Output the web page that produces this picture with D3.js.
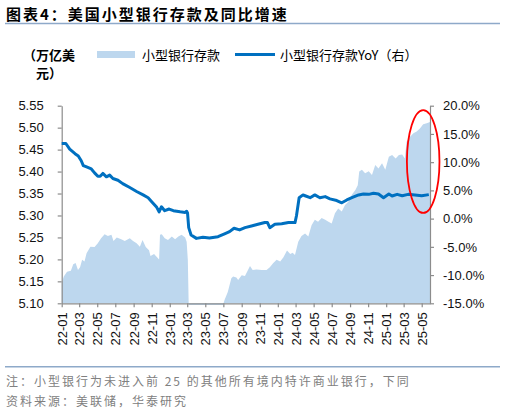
<!DOCTYPE html>
<html><head><meta charset="utf-8">
<script src="https://cdn.jsdelivr.net/npm/d3@7"></script>
<style>
html,body{margin:0;padding:0;background:#fff;}
svg{display:block;}
</style></head>
<body><svg id="c" width="505" height="412"></svg>
<script>
// ---- data ----
const depDates = ["2022-01-01","2022-01-08","2022-01-19","2022-02-01","2022-02-09","2022-02-17","2022-02-25","2022-03-04","2022-03-11","2022-03-19","2022-03-26","2022-04-08","2022-04-22","2022-05-03","2022-05-14","2022-05-26","2022-06-06","2022-06-18","2022-06-25","2022-07-06","2022-07-21","2022-08-02","2022-08-19","2022-08-30","2022-09-11","2022-09-22","2022-10-01","2022-10-12","2022-10-23","2022-10-28","2022-11-09","2022-11-26","2022-11-29","2022-12-05","2022-12-15","2022-12-26","2023-01-08","2023-01-19","2023-01-30","2023-02-10","2023-02-22","2023-02-27","2023-03-03","2023-03-06","2023-04-15","2023-06-30","2023-07-05","2023-07-16","2023-07-28","2023-08-03","2023-08-14","2023-08-20","2023-09-01","2023-09-12","2023-09-18","2023-09-29","2023-10-08","2023-10-21","2023-11-08","2023-11-24","2023-12-05","2023-12-16","2023-12-28","2024-01-09","2024-01-20","2024-02-01","2024-02-12","2024-02-20","2024-02-28","2024-03-10","2024-03-21","2024-04-02","2024-04-13","2024-04-24","2024-05-05","2024-05-16","2024-05-28","2024-06-09","2024-06-20","2024-07-01","2024-07-12","2024-07-23","2024-08-04","2024-08-15","2024-08-26","2024-09-07","2024-09-19","2024-09-27","2024-10-02","2024-10-11","2024-10-22","2024-11-03","2024-11-14","2024-11-25","2024-12-06","2024-12-18","2024-12-29","2025-01-10","2025-01-21","2025-02-02","2025-02-13","2025-02-24","2025-03-05","2025-03-11","2025-03-22","2025-04-03","2025-04-14","2025-04-25","2025-05-06","2025-05-18","2025-05-29"];
const depValues = [5.146,5.161,5.172,5.174,5.189,5.192,5.176,5.182,5.199,5.195,5.214,5.229,5.228,5.237,5.248,5.257,5.253,5.256,5.242,5.250,5.246,5.242,5.248,5.242,5.237,5.229,5.244,5.228,5.221,5.208,5.212,5.200,5.256,5.257,5.248,5.244,5.252,5.246,5.252,5.256,5.250,5.240,5.199,5.096,5.096,5.096,5.1075,5.126,5.157,5.161,5.159,5.153,5.164,5.162,5.170,5.185,5.176,5.177,5.176,5.176,5.182,5.191,5.199,5.195,5.205,5.220,5.212,5.215,5.210,5.240,5.253,5.259,5.252,5.278,5.290,5.286,5.294,5.290,5.286,5.282,5.305,5.316,5.309,5.324,5.331,5.347,5.358,5.369,5.400,5.404,5.396,5.401,5.392,5.415,5.407,5.419,5.404,5.434,5.438,5.430,5.438,5.439,5.430,5.468,5.479,5.487,5.491,5.498,5.508,5.510,5.513];

const yoyDates = ["2022-01-01","2022-01-15","2022-01-28","2022-02-15","2022-02-26","2022-03-08","2022-03-15","2022-03-24","2022-04-11","2022-04-22","2022-05-03","2022-05-11","2022-05-20","2022-06-01","2022-06-12","2022-06-23","2022-07-10","2022-07-26","2022-08-19","2022-09-11","2022-10-03","2022-10-20","2022-11-01","2022-11-18","2022-11-26","2022-12-04","2022-12-15","2022-12-30","2023-01-13","2023-02-05","2023-02-22","2023-02-27","2023-03-02","2023-03-06","2023-03-14","2023-04-01","2023-04-23","2023-05-15","2023-06-13","2023-07-05","2023-07-22","2023-08-06","2023-08-25","2023-09-12","2023-10-04","2023-10-26","2023-11-18","2023-11-27","2023-12-05","2023-12-22","2024-01-14","2024-02-06","2024-02-28","2024-03-04","2024-03-13","2024-03-26","2024-04-02","2024-04-19","2024-05-05","2024-05-22","2024-06-09","2024-06-25","2024-07-18","2024-08-04","2024-08-21","2024-09-07","2024-09-30","2024-10-16","2024-11-03","2024-11-19","2024-12-06","2024-12-23","2025-01-10","2025-01-21","2025-02-07","2025-02-24","2025-03-16","2025-04-08","2025-05-01","2025-05-25"];
const yoyValues = [13.3,13.3,12.3,11.5,11.1,10.25,9.4,9.2,8.8,8.1,7.5,7.5,8.0,7.4,7.7,7.1,6.8,6.2,5.5,4.8,4.2,3.7,3.0,2.0,1.2,2.1,1.4,1.7,1.4,1.2,1.1,1.3,1.0,-1.6,-2.9,-3.5,-3.3,-3.45,-3.2,-2.7,-2.3,-1.7,-2.0,-1.6,-1.3,-1.0,-0.7,-0.7,-1.6,-1.0,-0.9,-0.7,-0.7,0.5,3.7,4.2,4.05,3.7,4.2,3.7,3.9,3.5,3.2,2.8,3.3,3.7,4.2,4.35,4.3,4.5,4.35,3.7,4.35,4.0,4.3,4.05,4.3,4.2,4.05,4.25];

const leftTicks = [5.10,5.15,5.20,5.25,5.30,5.35,5.40,5.45,5.50,5.55];
const rightTicks = [-15,-10,-5,0,5,10,15,20];
const seriesNames = ["小型银行存款","小型银行存款YoY（右）"];
const titleText = "图表4：美国小型银行存款及同比增速";
const unitLines = ["（万亿美","元）"];
const notes = ["注：小型银行为未进入前 25 的其他所有境内特许商业银行，下同","资料来源：美联储，华泰研究"];

// ---- chart ----
const parse = d3.timeParse("%Y-%m-%d");
const dep = depDates.map((d,i)=>({date:parse(d), v:depValues[i]}));
const yoy = yoyDates.map((d,i)=>({date:parse(d), v:yoyValues[i]}));

const svg = d3.select("#c");
const FONT = "'Liberation Sans', Arial, sans-serif";
const CJK = "'Noto Sans CJK SC', sans-serif";
const AREA = "#BDD7EE", LINE = "#0070C0", RULE = "#8EA9C9", AXIS = "#8C8C8C";

const x = d3.scaleTime().domain([parse("2022-01-01"), parse("2025-05-29")]).range([61.7, 430]);
const yL = d3.scaleLinear().domain([5.10, 5.55]).range([303.3, 105.7]);
const yR = d3.scaleLinear().domain([-15, 20]).range([303.3, 105.7]);

// title
svg.append("text").attr("x",6).attr("y",20).text(titleText)
  .style("font-family",CJK).style("font-size","15px").style("font-weight","bold")
  .style("letter-spacing","2px").attr("fill","#000");
svg.append("line").attr("x1",5).attr("x2",500).attr("y1",23.5).attr("y2",23.5)
  .attr("stroke",RULE).attr("stroke-width",1.5);

// unit
unitLines.forEach((t,i)=>{
  svg.append("text").attr("x", i===0?23:36).attr("y", i===0?60:78).text(t)
    .style("font-family",CJK).style("font-size","13px").style("font-weight","bold").attr("fill","#000");
});

// legend
svg.append("rect").attr("x",97).attr("y",51).attr("width",38).attr("height",7).attr("fill",AREA);
svg.append("text").attr("x",142).attr("y",59.5).text(seriesNames[0])
  .style("font-family",CJK).style("font-size","13px").attr("fill","#000");
svg.append("line").attr("x1",235).attr("x2",275).attr("y1",54.5).attr("y2",54.5)
  .attr("stroke",LINE).attr("stroke-width",3);
svg.append("text").attr("x",280).attr("y",59.5).text(seriesNames[1])
  .style("font-family",CJK).style("font-size","13px").attr("fill","#000");

// area
svg.append("path").datum(dep)
  .attr("d", d3.area().x(d=>x(d.date)).y0(yL(5.10)).y1(d=>yL(d.v)))
  .attr("fill",AREA);

// axes
function styleAxis(g){
  g.selectAll("path").attr("stroke",AXIS).attr("stroke-width",1.2);
  g.selectAll("line").attr("stroke",AXIS).attr("stroke-width",1.2);
  g.selectAll("text").style("font-family",FONT).style("font-size","13px").attr("fill","#111");
}
const gx = svg.append("g").attr("transform",`translate(0,${yL(5.10)})`)
  .call(d3.axisBottom(x).ticks(d3.timeMonth.every(2)).tickFormat(d3.timeFormat("%y-%m")).tickSize(4).tickSizeOuter(0));
gx.selectAll("text").attr("transform","rotate(-90)").attr("x",-9).attr("y",0).attr("dy","0.35em").style("text-anchor","end");
styleAxis(gx);

const gl = svg.append("g").attr("transform",`translate(${x.range()[0]},0)`)
  .call(d3.axisLeft(yL).tickValues(leftTicks).tickFormat(d3.format(".2f")).tickSize(4).tickPadding(14).tickSizeOuter(0));
styleAxis(gl);

const gr = svg.append("g").attr("transform",`translate(${x.range()[1]},0)`)
  .call(d3.axisRight(yR).tickValues(rightTicks).tickFormat(d=>d.toFixed(1)+"%").tickSize(4).tickPadding(9).tickSizeOuter(0));
styleAxis(gr);

// line
svg.append("path").datum(yoy)
  .attr("d", d3.line().x(d=>x(d.date)).y(d=>yR(d.v)))
  .attr("fill","none").attr("stroke",LINE).attr("stroke-width",3).attr("stroke-linejoin","round");

// red ellipse annotation
const ecx = x(parse("2025-05-06")), ecy = yR(10.1);
svg.append("ellipse").attr("cx",ecx).attr("cy",ecy)
  .attr("rx", x(parse("2025-06-30")) - ecx)
  .attr("ry", yR(1.0) - ecy)
  .attr("fill","none").attr("stroke","#FF0000").attr("stroke-width",1.8);

// footer
svg.append("line").attr("x1",5).attr("x2",500).attr("y1",366.7).attr("y2",366.7)
  .attr("stroke",RULE).attr("stroke-width",1.5);
notes.forEach((t,i)=>{
  svg.append("text").attr("x",6).attr("y",386+i*20).text(t)
    .style("font-family",CJK).style("font-size","12px").style("letter-spacing","2px").attr("fill","#808080");
});
</script></body></html>
